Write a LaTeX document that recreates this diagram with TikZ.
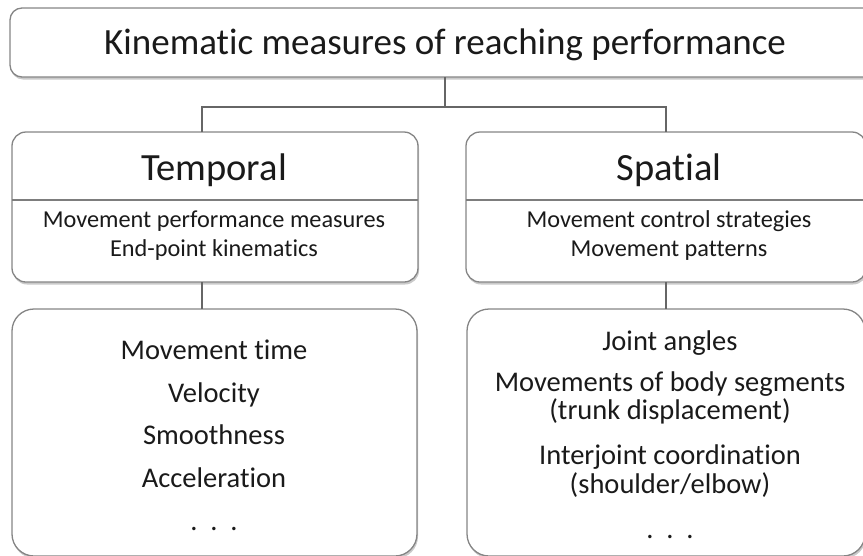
\documentclass[tikz,border=0pt]{standalone}
\usepackage{fontspec}
\setmainfont{Carlito}[RawFeature={-liga}]
\usetikzlibrary{shadows}

\definecolor{boxline}{HTML}{858585}
\definecolor{linkline}{HTML}{666666}
\definecolor{txt}{HTML}{1A1A1A}

\tikzset{
  panel/.style={draw=boxline, line width=1.3pt, fill=white, rounded corners=#1,
    drop shadow={shadow xshift=1pt, shadow yshift=-2.5pt, opacity=0.35, fill=black!60}},
  panel/.default=14pt,
  link/.style={draw=linkline, line width=2.2pt},
  divider/.style={draw=linkline!85, line width=1.6pt},
  label/.style={anchor=base, text=txt, inner sep=0pt},
  fsTitle/.style={font=\fontsize{37}{44}\selectfont},
  fsHead/.style={font=\fontsize{38.5}{46}\selectfont},
  fsSub/.style={font=\fontsize{24.3}{29}\selectfont},
  fsItem/.style={font=\fontsize{28.5}{34}\selectfont},
}

\begin{document}
\begin{tikzpicture}[x=1pt, y=-1pt]
\path[use as bounding box, clip] (0,0) rectangle (863,555);

% boxes (drawn as rectangles by their corners)
\path[panel=12pt] (10,8) rectangle (880,77);
\path[panel] (12,132) rectangle (418,282);
\path[panel] (466,132) rectangle (866,282);
\path[panel=22pt] (12,309) rectangle (417,556);
\path[panel=22pt] (467,309) rectangle (865,556);

% invisible named nodes covering the boxes
\node[inner sep=0pt, minimum width=870pt, minimum height=69pt] (top) at (445,42.5) {};
\node[inner sep=0pt, minimum width=406pt, minimum height=150pt] (temp) at (215,207) {};
\node[inner sep=0pt, minimum width=400pt, minimum height=150pt] (spat) at (666,207) {};
\node[inner sep=0pt, minimum width=405pt, minimum height=247pt] (tlist) at (214.5,432.5) {};
\node[inner sep=0pt, minimum width=398pt, minimum height=247pt] (slist) at (666,432.5) {};

% junction points of the connectors
\coordinate (bus) at (445,107);
\coordinate (lx) at (202,0);
\coordinate (rx) at (666,0);

% connectors
\draw[link] (top.south) -- (bus);
\draw[link] (temp.north -| lx) |- (bus) -| (spat.north -| rx);
\draw[link] (temp.south -| lx) -- (tlist.north -| lx);
\draw[link] (spat.south -| rx) -- (slist.north -| rx);

% header dividers
\draw[divider] (12,200) -- (418,200);
\draw[divider] (466,200) -- (866,200);

% texts
\node[label, fsTitle] (ttl) at (445,54) {Kinematic measures of reaching performance};

\node[label, fsHead] (th) at (214,180) {Temporal};
\node[label, fsSub] (ts1) at (214,227) {Movement performance measures};
\node[label, fsSub] (ts2) at (214,256) {End-point kinematics};

\node[label, fsHead] (sh) at (669,180) {Spatial};
\node[label, fsSub] (ss1) at (669,227) {Movement control strategies};
\node[label, fsSub] (ss2) at (669,256) {Movement patterns};

\node[label, fsItem] (t1) at (214,359) {Movement time};
\node[label, fsItem] (t2) at (214,402) {Velocity};
\node[label, fsItem] (t3) at (214,444) {Smoothness};
\node[label, fsItem] (t4) at (214,487) {Acceleration};
\node[label, fsItem] (t5) at (214,530) {.\hspace{0.45em}.\hspace{0.45em}.};

\node[label, fsItem] (s1) at (670,350) {Joint angles};
\node[label, fsItem] (s2) at (670,391) {Movements of body segments};
\node[label, fsItem] (s3) at (670,419) {(trunk displacement)};
\node[label, fsItem] (s4) at (670,464) {Interjoint coordination};
\node[label, fsItem] (s5) at (670,493) {(shoulder/elbow)};
\node[label, fsItem] (s6) at (670,538) {.\hspace{0.45em}.\hspace{0.45em}.};
\end{tikzpicture}
\end{document}
